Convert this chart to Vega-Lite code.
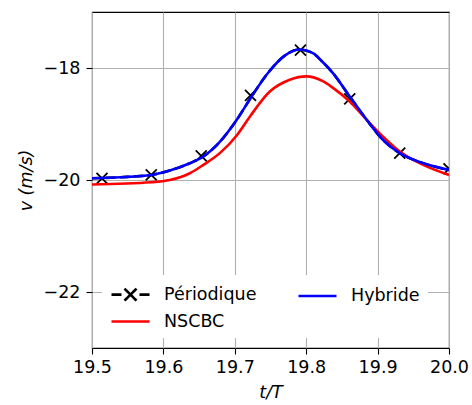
{
  "$schema": "https://vega.github.io/schema/vega-lite/v6.json",
  "width": 357,
  "height": 336,
  "autosize": {"type": "none"},
  "padding": {"left": 92, "top": 12, "right": 23, "bottom": 57},
  "background": "white",
  "config": {
    "font": "DejaVu Sans",
    "view": {"stroke": "black", "strokeWidth": 1.1},
    "axis": {
      "grid": true, "gridColor": "#b0b0b0", "gridWidth": 1.1,
      "domain": false, "tickColor": "black", "tickWidth": 1.1, "tickSize": 6,
      "labelFontSize": 17.5, "labelColor": "black", "titleFontSize": 17.5, "labelFlush": false,
      "titleFontWeight": "normal", "titleFontStyle": "italic", "titleColor": "black"
    }
  },
  "datasets": {
    "curves": [
      {"series": "Périodique", "t": 19.500, "v": -19.97},
      {"series": "Périodique", "t": 19.540, "v": -19.95},
      {"series": "Périodique", "t": 19.583, "v": -19.91},
      {"series": "Périodique", "t": 19.609, "v": -19.83},
      {"series": "Périodique", "t": 19.637, "v": -19.70},
      {"series": "Périodique", "t": 19.656, "v": -19.58},
      {"series": "Périodique", "t": 19.679, "v": -19.32},
      {"series": "Périodique", "t": 19.703, "v": -18.92},
      {"series": "Périodique", "t": 19.724, "v": -18.50},
      {"series": "Périodique", "t": 19.747, "v": -18.08},
      {"series": "Périodique", "t": 19.770, "v": -17.78},
      {"series": "Périodique", "t": 19.790, "v": -17.67},
      {"series": "Périodique", "t": 19.810, "v": -17.74},
      {"series": "Périodique", "t": 19.822, "v": -17.88},
      {"series": "Périodique", "t": 19.838, "v": -18.10},
      {"series": "Périodique", "t": 19.861, "v": -18.51},
      {"series": "Périodique", "t": 19.885, "v": -18.93},
      {"series": "Périodique", "t": 19.908, "v": -19.29},
      {"series": "Périodique", "t": 19.931, "v": -19.52},
      {"series": "Périodique", "t": 19.964, "v": -19.70},
      {"series": "Périodique", "t": 20.000, "v": -19.82},
      {"series": "Hybride", "t": 19.500, "v": -19.97},
      {"series": "Hybride", "t": 19.540, "v": -19.95},
      {"series": "Hybride", "t": 19.583, "v": -19.91},
      {"series": "Hybride", "t": 19.609, "v": -19.83},
      {"series": "Hybride", "t": 19.637, "v": -19.70},
      {"series": "Hybride", "t": 19.656, "v": -19.58},
      {"series": "Hybride", "t": 19.679, "v": -19.32},
      {"series": "Hybride", "t": 19.703, "v": -18.92},
      {"series": "Hybride", "t": 19.724, "v": -18.50},
      {"series": "Hybride", "t": 19.747, "v": -18.08},
      {"series": "Hybride", "t": 19.770, "v": -17.78},
      {"series": "Hybride", "t": 19.790, "v": -17.67},
      {"series": "Hybride", "t": 19.810, "v": -17.74},
      {"series": "Hybride", "t": 19.822, "v": -17.88},
      {"series": "Hybride", "t": 19.838, "v": -18.10},
      {"series": "Hybride", "t": 19.861, "v": -18.51},
      {"series": "Hybride", "t": 19.885, "v": -18.93},
      {"series": "Hybride", "t": 19.908, "v": -19.29},
      {"series": "Hybride", "t": 19.931, "v": -19.52},
      {"series": "Hybride", "t": 19.964, "v": -19.70},
      {"series": "Hybride", "t": 20.000, "v": -19.82},
      {"series": "NSCBC", "t": 19.500, "v": -20.08},
      {"series": "NSCBC", "t": 19.583, "v": -20.04},
      {"series": "NSCBC", "t": 19.609, "v": -20.00},
      {"series": "NSCBC", "t": 19.637, "v": -19.88},
      {"series": "NSCBC", "t": 19.656, "v": -19.73},
      {"series": "NSCBC", "t": 19.679, "v": -19.52},
      {"series": "NSCBC", "t": 19.703, "v": -19.20},
      {"series": "NSCBC", "t": 19.721, "v": -18.87},
      {"series": "NSCBC", "t": 19.749, "v": -18.42},
      {"series": "NSCBC", "t": 19.777, "v": -18.21},
      {"series": "NSCBC", "t": 19.800, "v": -18.15},
      {"series": "NSCBC", "t": 19.824, "v": -18.24},
      {"series": "NSCBC", "t": 19.838, "v": -18.36},
      {"series": "NSCBC", "t": 19.861, "v": -18.60},
      {"series": "NSCBC", "t": 19.885, "v": -18.93},
      {"series": "NSCBC", "t": 19.908, "v": -19.23},
      {"series": "NSCBC", "t": 19.931, "v": -19.49},
      {"series": "NSCBC", "t": 19.964, "v": -19.73},
      {"series": "NSCBC", "t": 20.000, "v": -19.91}
    ],
    "markers": [
      {"t": 19.514, "v": -19.97},
      {"t": 19.583, "v": -19.91},
      {"t": 19.653, "v": -19.57},
      {"t": 19.722, "v": -18.49},
      {"t": 19.792, "v": -17.68},
      {"t": 19.861, "v": -18.55},
      {"t": 19.931, "v": -19.52},
      {"t": 20.000, "v": -19.80}
    ]
  },
  "encoding": {
    "x": {"field": "t", "type": "quantitative",
      "scale": {"domain": [19.5, 20.0], "nice": false, "zero": false},
      "axis": {"values": [19.5, 19.6, 19.7, 19.8, 19.9, 20.0], "format": ".1f", "title": "t/T", "labelPadding": 4, "titlePadding": 8}},
    "y": {"field": "v", "type": "quantitative",
      "scale": {"domain": [-23, -17], "nice": false, "zero": false},
      "axis": {"values": [-22, -20, -18], "format": "d", "title": "v (m/s)", "labelPadding": 6, "titlePadding": 8}}
  },
  "layer": [
    {
      "data": {"name": "curves"},
      "transform": [{"filter": "datum.series === 'Périodique'"}],
      "mark": {"type": "line", "strokeWidth": 2.6, "strokeDash": [9.7, 4.2], "interpolate": "monotone", "clip": true},
      "encoding": {
        "color": {"field": "series", "type": "nominal",
          "scale": {"domain": ["Périodique", "NSCBC", "Hybride"], "range": ["#000000", "#ff0000", "#0000ff"]},
          "legend": {
            "title": null, "orient": "bottom-left", "offset": 10, "padding": 8,
            "columns": 2, "columnPadding": 36, "rowPadding": 4,
            "fillColor": "white", "strokeColor": null,
            "labelFontSize": 17.5, "labelColor": "black", "labelOffset": 31,
            "symbolSize": 400, "symbolStrokeWidth": 2.6,
            "encode": {"symbols": {"update": {
              "shape": {"signal": "datum.value === 'Périodique' ? 'M-1,0H0M1.8,0H2.8M0.3,-0.6L1.5,0.6M0.3,0.6L1.5,-0.6' : 'M-1,0H2.8'"},
              "strokeDash": {"value": [1, 0]},
              "fill": {"value": "transparent"}
            }}}
          }
        }
      }
    },
    {
      "data": {"name": "markers"},
      "mark": {"type": "point", "shape": "M-1,-1L1,1M-1,1L1,-1", "filled": false, "color": "black", "size": 121, "strokeWidth": 1.8, "opacity": 1, "clip": true},
      "encoding": {}
    },
    {
      "data": {"name": "curves"},
      "transform": [{"filter": "datum.series === 'NSCBC'"}],
      "mark": {"type": "line", "strokeWidth": 2.6, "interpolate": "monotone", "clip": true},
      "encoding": {"color": {"field": "series", "type": "nominal"}}
    },
    {
      "data": {"name": "curves"},
      "transform": [{"filter": "datum.series === 'Hybride'"}],
      "mark": {"type": "line", "strokeWidth": 2.6, "interpolate": "monotone", "clip": true},
      "encoding": {"color": {"field": "series", "type": "nominal"}}
    }
  ]
}
